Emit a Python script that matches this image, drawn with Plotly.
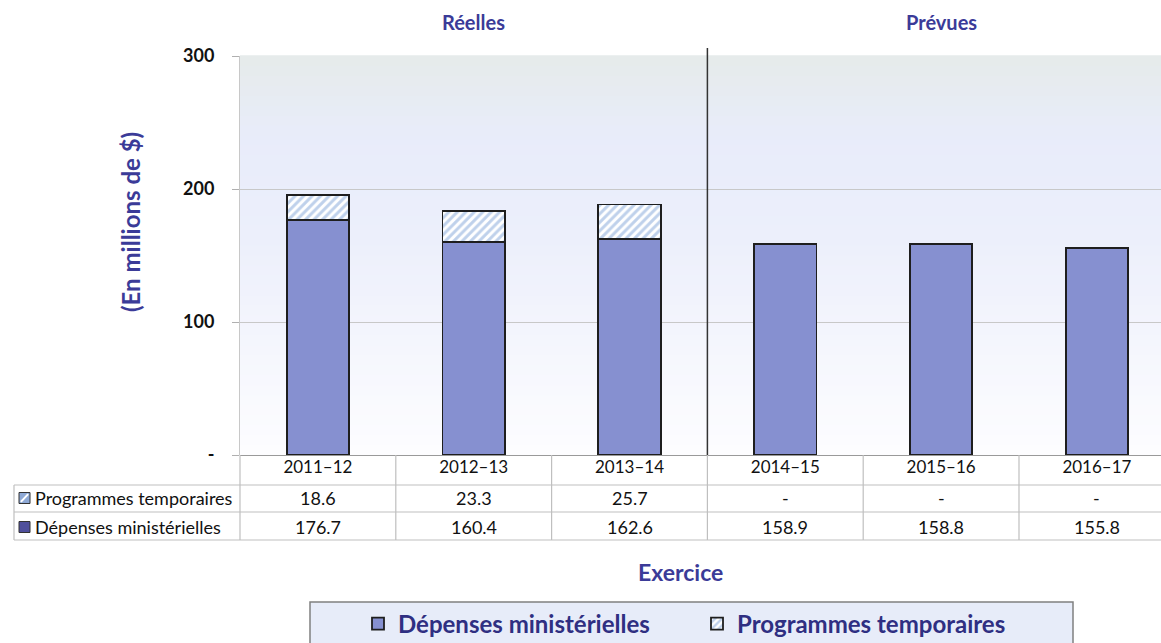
import plotly.graph_objects as go

categories = ["2011–12", "2012–13", "2013–14", "2014–15", "2015–16", "2016–17"]
depenses = [176.7, 160.4, 162.6, 158.9, 158.8, 155.8]
temporaires = [18.6, 23.3, 25.7, None, None, None]
y_ticks = [0, 100, 200, 300]
y_ticktext = ["-", "100", "200", "300"]

DARK_BLUE = "#3b3b98"
FONT = "Lato"

W, H = 1161, 643
L, R, T, B = 240, 0, 56, 188
pw = W - L - R
ph = H - T - B


def px_x(p):
    return (p - L) / pw


def px_y(p):
    return (H - B - p) / ph


fig = go.Figure()
fig.add_trace(go.Bar(
    x=categories, y=depenses, name="Dépenses ministérielles", width=0.4,
    marker=dict(color="#8690d0", line=dict(color="#1e1e1e", width=1.8)),
))
fig.add_trace(go.Bar(
    x=categories, y=temporaires, name="Programmes temporaires", width=0.4,
    marker=dict(color="white", line=dict(color="#1e1e1e", width=1.8),
                pattern=dict(shape="/", fgcolor="#7fa3d8", bgcolor="white", size=6, solidity=0.5)),
))

shapes = []
# background gradient stripes
def lerp(c1, c2, t):
    return "#%02x%02x%02x" % tuple(int(round(a + (b - a) * t)) for a, b in zip(c1, c2))

stops = [(0.0, (253, 253, 255)), (0.55, (236, 239, 251)), (0.8, (232, 236, 250)), (1.0, (230, 235, 234))]
N = 40
for i in range(N):
    f = (i + 0.5) / N
    for j in range(len(stops) - 1):
        if stops[j][0] <= f <= stops[j + 1][0]:
            t = (f - stops[j][0]) / (stops[j + 1][0] - stops[j][0])
            col = lerp(stops[j][1], stops[j + 1][1], t)
            break
    shapes.append(dict(type="rect", xref="paper", yref="paper", x0=0, x1=1, y0=i / N, y1=(i + 1) / N + 0.002,
                       fillcolor=col, line=dict(width=0), layer="below"))

# separator
shapes.append(dict(type="line", xref="x", yref="paper", x0=2.5, x1=2.5, y0=0, y1=px_y(48),
                   line=dict(color="#333333", width=1.5)))

# table lines
GRID = "#bfbfbf"
row_lines = [485, 512, 540]
for yy in row_lines:
    shapes.append(dict(type="line", xref="paper", yref="paper", x0=px_x(14), x1=1, y0=px_y(yy), y1=px_y(yy),
                       line=dict(color=GRID, width=1.2)))
for k in range(1, len(categories)):
    shapes.append(dict(type="line", xref="x", yref="paper", x0=k - 0.5, x1=k - 0.5, y0=0, y1=px_y(540),
                       line=dict(color=GRID, width=1.2)))
shapes.append(dict(type="line", xref="paper", yref="paper", x0=0, x1=0, y0=0, y1=px_y(540),
                   line=dict(color=GRID, width=1.2)))
shapes.append(dict(type="line", xref="paper", yref="paper", x0=px_x(14), x1=px_x(14), y0=px_y(485), y1=px_y(540),
                   line=dict(color=GRID, width=1.2)))

# row icons
def icon(cy, fill, hatched):
    x0, x1 = px_x(19), px_x(30)
    y0, y1 = px_y(cy + 5.5), px_y(cy - 5.5)
    shapes.append(dict(type="rect", xref="paper", yref="paper", x0=x0, x1=x1, y0=y0, y1=y1,
                       fillcolor=fill, line=dict(color="#333333", width=1)))
    if hatched:
        shapes.append(dict(type="line", xref="paper", yref="paper", x0=x0 + 0.002, x1=x1 - 0.002,
                           y0=y0 + 0.004, y1=y1 - 0.004, line=dict(color="#ffffff", width=2)))

icon(498, "#8ea9d6", True)
icon(527, "#4f4f9c", False)

# legend box
shapes.append(dict(type="rect", xref="paper", yref="paper", x0=px_x(310), x1=px_x(1073), y0=px_y(660), y1=px_y(602),
                   fillcolor="#e7ecf9", line=dict(color="#808080", width=1.5), layer="below"))

TS = 18


def ann(x, y, text, size, color="#111", xref="paper", xanchor="center", **kw):
    return dict(x=x, y=y, xref=xref, yref="paper", showarrow=False, text=text, xanchor=xanchor,
                yanchor="middle", font=dict(size=size, color=color, family=FONT), **kw)


annotations = []
for i, c in enumerate(categories):
    v1 = temporaires[i]
    annotations.append(ann(c, px_y(498), "-" if v1 is None else f"{v1:.1f}", TS, xref="x"))
    annotations.append(ann(c, px_y(527), f"{depenses[i]:.1f}", TS, xref="x"))
annotations.append(ann(px_x(33), px_y(498), "Programmes temporaires", TS, xanchor="left"))
annotations.append(ann(px_x(33), px_y(527), "Dépenses ministérielles", TS, xanchor="left"))
annotations.append(ann(1, px_y(22), "<b>Réelles</b>", 20, DARK_BLUE, xref="x"))
annotations.append(ann(4, px_y(22), "<b>Prévues</b>", 20, DARK_BLUE, xref="x"))
annotations.append(ann(px_x(130), px_y(222), "<b>(En millions de $)</b>", 24, DARK_BLUE, textangle=-90))
annotations.append(ann(px_x(680), px_y(572), "<b>Exercice</b>", 23, DARK_BLUE))

fig.update_layout(
    width=W, height=H, margin=dict(l=L, r=R, t=T, b=B, autoexpand=False),
    barmode="stack", paper_bgcolor="white", plot_bgcolor="white",
    font=dict(family=FONT),
    shapes=shapes, annotations=annotations,
    legend=dict(orientation="h", x=px_x(697), xanchor="center", y=px_y(624), yanchor="middle",
                bgcolor="rgba(0,0,0,0)", font=dict(size=24, color="#2f2f82", family=FONT, weight="bold"),
                itemwidth=30, traceorder="normal", entrywidth=294),
    xaxis=dict(range=[-0.5, (W - L) / 155.8 - 0.5], showgrid=False, showline=False, ticks="",
               tickfont=dict(size=17, color="#111", family=FONT), fixedrange=True),
    yaxis=dict(range=[0, 300], tickvals=y_ticks, ticktext=y_ticktext, showgrid=True, gridcolor="#c8c8c8",
               gridwidth=1.2, showline=True, linecolor="#c8c8c8", ticks="outside", ticklen=7, tickcolor="#b0b0b0",
               tickfont=dict(size=18, color="#111", family=FONT, weight="bold"), ticklabelstandoff=14,
               zeroline=True, zerolinecolor="#9a9a9a", zerolinewidth=1.2, fixedrange=True),
)

fig.write_html("out.html", config={"displayModeBar": False},
               post_script="document.body.style.margin='0px';document.body.style.overflow='hidden';")
